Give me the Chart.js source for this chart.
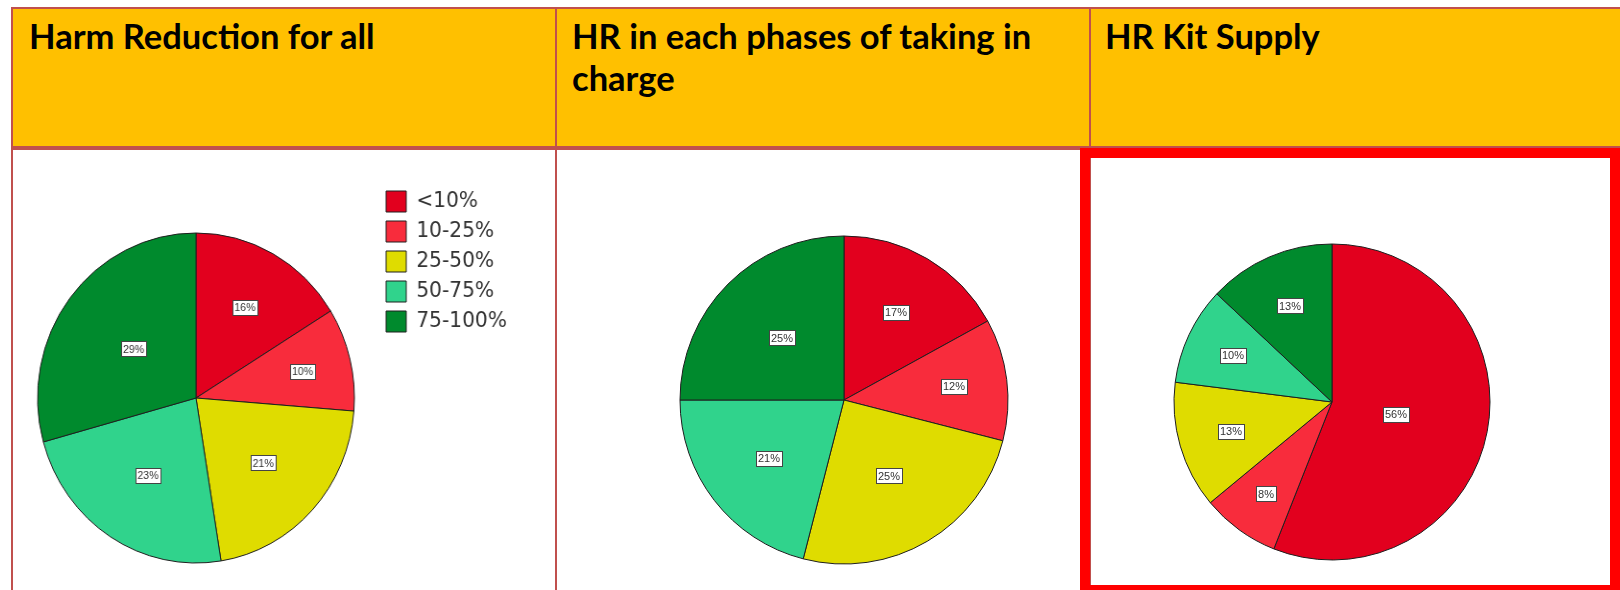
<!DOCTYPE html>
<html>
<head>
<meta charset="utf-8">
<script src="https://cdn.jsdelivr.net/npm/chart.js@4.4.1/dist/chart.umd.min.js"></script>
<style>
  html, body { margin: 0; padding: 0; }
  body { width: 1620px; height: 590px; overflow: hidden; position: relative; background: #fff; }
  .abs { position: absolute; }
  .line { position: absolute; background: #C0504D; }
  .head { position: absolute; top: 9px; height: 137px; background: #FFC000; }
  .title { position: absolute; top: 15px; font-family: Lato, "Open Sans", sans-serif; font-weight: 700;
           font-size: 34.5px; line-height: 42px; color: #000; white-space: nowrap; }
  #redframe { position: absolute; left: 1080px; top: 148px; width: 520px; height: 427px; border: 10px solid #FF0000; }
  /* the first pie is a touch narrower than tall in the original */
  #pieAll { transform: scaleX(0.96); transform-origin: 189.8px 247.7px; }
</style>
</head>
<body>
  <!-- header cells -->
  <div class="head" style="left:13px; width:542px;"></div>
  <div class="head" style="left:557px; width:532px;"></div>
  <div class="head" style="left:1091px; width:529px;"></div>

  <!-- table rules -->
  <div class="line" style="left:11px; top:7px; width:1609px; height:2px;"></div>
  <div class="line" style="left:11px; top:7px; width:2px; height:583px;"></div>
  <div class="line" style="left:555px; top:7px; width:2px; height:583px;"></div>
  <div class="line" style="left:1089px; top:7px; width:2px; height:583px;"></div>
  <div class="line" style="left:11px; top:146px; width:1609px; height:4px;"></div>

  <div class="title" style="left:29px;">Harm Reduction for all</div>
  <div class="title" style="left:572px;">HR in each phases of taking in<br>charge</div>
  <div class="title" style="left:1105px;">HR Kit Supply</div>

  <div id="redframe"></div>

  <canvas id="pieAll" class="abs" width="550" height="464" style="left:6px; top:150px;"></canvas>
  <canvas id="piePhases" class="abs" width="340" height="340" style="left:674px; top:230px;"></canvas>
  <canvas id="pieKit" class="abs" width="340" height="340" style="left:1162px; top:232px;"></canvas>

<script>
// categories shared by the three pies
const categories = ['<10%', '10-25%', '25-50%', '50-75%', '75-100%'];

// percentages
const harmReductionAll = [16, 10, 21, 23, 29];
const hrEachPhase = [17, 12, 25, 21, 25];
const hrKitSupply = [56, 8, 13, 10, 13];

const sliceColors = ['#E2001E', '#F82C3C', '#DFDC00', '#30D38C', '#008A2D'];

// white boxed percentage inside each slice
const pctLabels = {
  id: 'pctLabels',
  afterDatasetsDraw(chart) {
    const ctx = chart.ctx;
    const meta = chart.getDatasetMeta(0);
    const values = chart.data.datasets[0].data;
    const total = values.reduce((a, b) => a + b, 0);
    ctx.save();
    ctx.font = '11px "Liberation Sans", Arial, sans-serif';
    ctx.textAlign = 'center';
    ctx.textBaseline = 'middle';
    meta.data.forEach((arc, i) => {
      const p = arc.getProps(['x', 'y', 'startAngle', 'endAngle', 'outerRadius'], true);
      const mid = (p.startAngle + p.endAngle) / 2;
      const frac = values[i] / total;
      // small slices get their label pushed further out
      const dist = p.outerRadius * Math.max(0.80 - 1.05 * frac, 0.415);
      const cx = p.x + Math.cos(mid) * dist;
      const cy = p.y + Math.sin(mid) * dist;
      const txt = values[i] + '%';
      const w = Math.round(ctx.measureText(txt).width) + 4;
      const h = 15;
      const bx = Math.round(cx - w / 2) + 0.5;
      const by = Math.round(cy - h / 2) + 0.5;
      ctx.fillStyle = '#fff';
      ctx.fillRect(bx, by, w, h);
      ctx.strokeStyle = '#444';
      ctx.lineWidth = 1;
      ctx.strokeRect(bx, by, w, h);
      ctx.fillStyle = '#333';
      ctx.fillText(txt, Math.round(cx), Math.round(cy) + 1);
    });
    ctx.restore();
  }
};

function makePie(id, values, radius, extra) {
  const ctx = document.getElementById(id).getContext('2d');
  return new Chart(ctx, {
    type: 'pie',
    data: {
      labels: categories,
      datasets: [{
        data: values,
        backgroundColor: sliceColors,
        borderColor: '#1e1e1e',
        borderWidth: 1,
        radius: radius,
      }],
    },
    options: Object.assign({
      responsive: false,
      animation: false,
      layout: { padding: 0 },
      plugins: {
        legend: { display: false },
        tooltip: { enabled: false },
      },
    }, extra),
    plugins: [pctLabels],
  });
}

makePie('pieAll', harmReductionAll, 165, {
  layout: { padding: { left: 1, top: 32, right: 31, bottom: 0 } },
  plugins: {
    tooltip: { enabled: false },
    legend: {
      display: true,
      position: 'right',
      align: 'start',
      maxWidth: 140,
      labels: {
        boxWidth: 21,
        boxHeight: 21,
        padding: 9,
        color: '#333',
        font: { family: '"DejaVu Sans", sans-serif', size: 21 },
      },
    },
  },
});

makePie('piePhases', hrEachPhase, 164);
makePie('pieKit', hrKitSupply, 158);
</script>
</body>
</html>
